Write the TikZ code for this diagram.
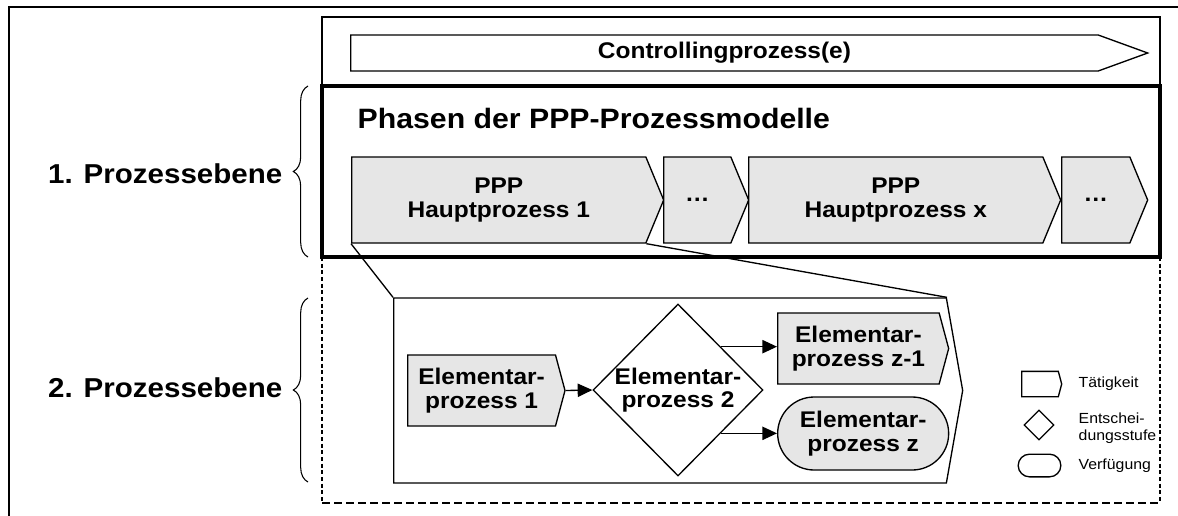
\documentclass[tikz,border=0pt]{standalone}
\usepackage{fontspec}
\setmainfont{Liberation Sans}[FakeStretch=1.08]
\usetikzlibrary{arrows.meta,positioning,shapes.geometric,shapes.symbols,shapes.misc,decorations.pathreplacing}
\definecolor{procgray}{HTML}{E6E6E6}
\tikzset{
  boxfont/.style={font=\fontsize{17}{17.5}\selectfont\bfseries},
  procstep/.style={draw, fill=procgray, signal, signal to=east, signal pointer angle=135, line width=1pt, align=center, inner sep=0pt, minimum height=64.5pt, boxfont},
  elemstep/.style={draw, fill=procgray, signal, signal to=east, signal pointer angle=150, line width=1pt, align=center, inner sep=0pt, minimum width=118pt, minimum height=53.25pt, boxfont},
  decision/.style={draw, diamond, fill=white, line width=1pt, inner sep=0pt, minimum width=127.5pt, minimum height=129pt},
  elemtext/.style={align=center, boxfont},
  disposal/.style={draw, fill=procgray, rounded rectangle, line width=1pt, align=center, inner sep=0pt, minimum width=128.25pt, minimum height=54.75pt, boxfont},
  detailbox/.style={draw, fill=white, signal, signal to=east, signal pointer angle=160, line width=1pt, inner sep=0pt, minimum width=426.75pt, minimum height=138.75pt},
  flowarrow/.style={-{Triangle[length=11pt,width=10pt]}, line width=1pt},
  zoomline/.style={line width=1pt},
  levelbrace/.style={decorate, decoration={brace, amplitude=11pt}, line width=0.8pt},
  leveltext/.style={font=\fontsize{20.5}{24}\selectfont\bfseries},
  legendtext/.style={align=left, font=\fontsize{11}{12.8}\selectfont},
  framebox/.style={line width=1pt},
  thickframe/.style={line width=2.3pt},
  dashside/.style={line width=1pt, dash pattern=on 3pt off 2pt},
  dashbase/.style={line width=1pt, dash pattern=on 6pt off 3pt}
}
\begin{document}
\begin{tikzpicture}[x=0.75pt, y=-0.75pt]
\clip (0,0) rectangle (1178,515);
\draw[line width=1.5pt] (9,530) -- (9,7) -- (1190,7);

% controlling level
\draw[framebox] (322,17) rectangle (1160,86);
\node[draw, signal, signal to=east, signal pointer angle=40, line width=1pt, inner sep=0pt, minimum width=597.75pt, minimum height=27pt, boxfont, anchor=west] (ctrl) at (350,53) {Controllingprozess(e)};

% process level 1
\draw[dashside] (322,257) -- (322,503);
\draw[dashside] (1160,257) -- (1160,503);
\draw[dashbase] (322,503) -- (1160,503);
\draw[thickframe] (322,86) rectangle (1160,257);
\node[font=\fontsize{21}{24}\selectfont\bfseries, anchor=base west] (phasen) at (353,128) {Phasen der PPP-Prozessmodelle};
\node[procstep, minimum width=234pt, anchor=west] (hp1) at (351,200) {PPP\\Hauptprozess 1};
\node[procstep, minimum width=63.75pt, anchor=west] (more1) at (663,200) {\dots};
\node[procstep, minimum width=234pt, anchor=west] (hpx) at (748,200) {PPP\\Hauptprozess x};
\node[procstep, minimum width=64.5pt, anchor=west] (more2) at (1061,200) {\dots};

% process level 2
\node[detailbox, anchor=west] (detail) at (393,390.5) {};
\draw[zoomline] (hp1.south west) -- (detail.north west);
\draw[zoomline] (hp1.south east) -- (detail.north east);
\node[elemstep, anchor=west] (ep1) at (407,390.5) {Elementar-\\prozess 1};
\node[decision, label={[elemtext]center:Elementar-\\prozess 2}] (ep2) at (678,390) {};
\node[elemstep, minimum width=128.25pt, anchor=west] (epz1) at (777,348.5) {Elementar-\\prozess z-1};
\node[disposal, anchor=west] (epz) at (777,433.5) {Elementar-\\prozess z};
\draw[flowarrow] (ep1.east) -- (ep2.west);
\draw[flowarrow] (ep2.north east) -- (ep2.north east -| epz1.west);
\draw[flowarrow] (ep2.south east) -- (ep2.south east -| epz.west);

% levels
\draw[levelbrace] (308,257) -- (308,86);
\draw[levelbrace] (308,482) -- (308,298);
\node[leveltext, anchor=base east] (level1) at (287,183) {1. Prozessebene};
\node[leveltext, anchor=base east] (level2) at (287,397) {2. Prozessebene};

% legend
\node[draw, signal, signal to=east, signal pointer angle=150, line width=1pt, inner sep=0pt, minimum width=30pt, minimum height=19pt] (legact) at (1040,384) {};
\node[draw, diamond, line width=1pt, inner sep=0pt, minimum width=22.5pt, minimum height=22.5pt] (legdec) at (1039,425) {};
\node[draw, rounded rectangle, line width=1pt, inner sep=0pt, minimum width=32pt, minimum height=17pt] (legdisp) at (1039.5,465.5) {};
\node[legendtext, anchor=west] (txtact) at (1074,384) {Tätigkeit};
\node[legendtext, anchor=west] (txtdec) at (1074,428) {Entschei-\\dungsstufe};
\node[legendtext, anchor=west] (txtdisp) at (1074,466) {Verfügung};
\end{tikzpicture}
\end{document}
